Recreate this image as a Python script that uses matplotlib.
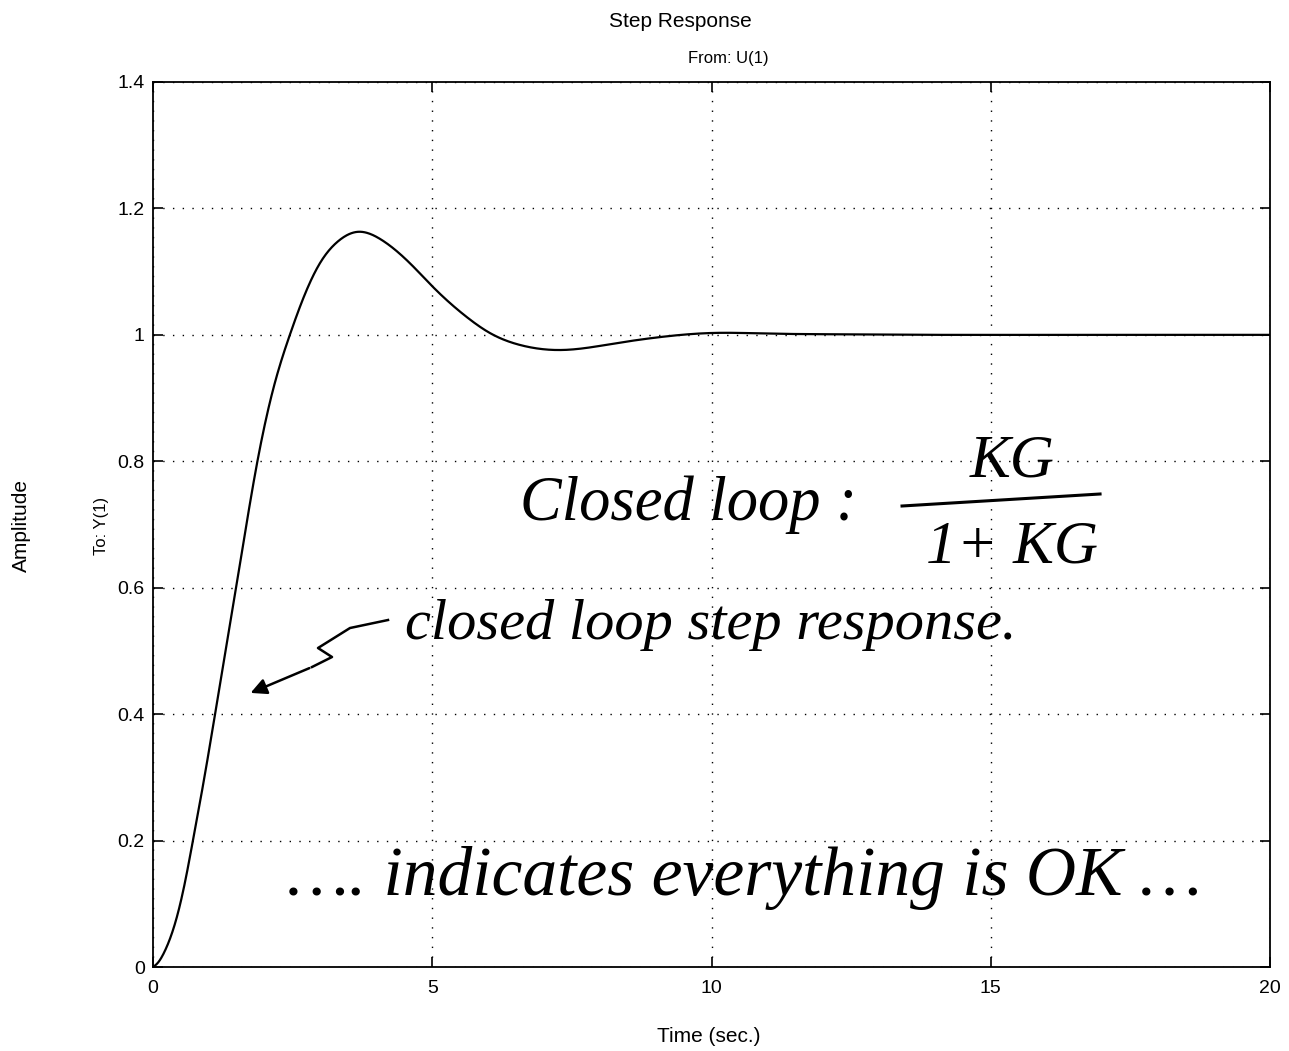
import matplotlib
matplotlib.use("Agg")
import matplotlib.pyplot as plt
import numpy as np

t = [0.0, 0.08, 0.21, 0.43, 0.57, 0.72, 0.93, 1.13, 1.47, 1.88, 2.2, 2.45,
     2.7, 3.0, 3.3, 3.67, 4.06, 4.66, 5.01, 5.62, 6.03, 6.57, 7.29, 8.24,
     9.13, 10.03, 11.0, 12.0, 14.0, 16.0, 18.0, 20.0]
y = [0.0, 0.006, 0.025, 0.08, 0.133, 0.2025, 0.305, 0.41, 0.59, 0.805, 0.93,
     1.0, 1.06, 1.115, 1.147, 1.163, 1.152, 1.108, 1.076, 1.028, 1.003, 0.984,
     0.976, 0.986, 0.997, 1.003, 1.002, 1.001, 1.0, 1.0, 1.0, 1.0]
xticks = [0, 5, 10, 15, 20]
yticks = [0, 0.2, 0.4, 0.6, 0.8, 1.0, 1.2, 1.4]
yticklabels = ["0", "0.2", "0.4", "0.6", "0.8", "1", "1.2", "1.4"]


def natural_spline(xk, yk, xs):
    xk = np.asarray(xk, float)
    yk = np.asarray(yk, float)
    n = len(xk)
    h = np.diff(xk)
    A = np.zeros((n, n))
    b = np.zeros(n)
    A[0, 0] = 1
    A[-1, -1] = 1
    for i in range(1, n - 1):
        A[i, i - 1] = h[i - 1]
        A[i, i] = 2 * (h[i - 1] + h[i])
        A[i, i + 1] = h[i]
        b[i] = 6 * ((yk[i + 1] - yk[i]) / h[i] - (yk[i] - yk[i - 1]) / h[i - 1])
    M = np.linalg.solve(A, b)
    idx = np.clip(np.searchsorted(xk, xs) - 1, 0, n - 2)
    x0, x1 = xk[idx], xk[idx + 1]
    hh = h[idx]
    a = (x1 - xs) / hh
    c = (xs - x0) / hh
    return (a * yk[idx] + c * yk[idx + 1]
            + ((a**3 - a) * M[idx] + (c**3 - c) * M[idx + 1]) * hh**2 / 6)


plt.rcParams['font.family'] = ['Liberation Sans', 'DejaVu Sans']

fig = plt.figure(figsize=(12.89, 10.51), dpi=100)
ax = fig.add_axes([0.1187, 0.0799, 0.8666, 0.8421])

ts = np.linspace(0, 20, 1500)
ys = natural_spline(t, y, ts)
ax.plot(ts, ys, color='black', lw=1.6)

ax.set_xlim(0, 20)
ax.set_ylim(0, 1.4)
ax.set_xticks(xticks)
ax.set_xticklabels([str(v) for v in xticks])
ax.set_yticks(yticks)
ax.set_yticklabels(yticklabels)
ax.tick_params(direction='in', length=7, labelsize=14, width=1.2, top=True, right=True)
ax.tick_params(axis='x', pad=9)
ax.tick_params(axis='y', pad=6)
ax.grid(True, linestyle=(0, (1, 6)), color='black', lw=1.0)
for s in ax.spines.values():
    s.set_linewidth(1.3)

fig.text(0.528, 0.980, "Step Response", ha='center', va='center', fontsize=15)
fig.text(0.565, 0.944, "From: U(1)", ha='center', va='center', fontsize=12)
fig.text(0.017, 0.5, "Amplitude", rotation=90, ha='center', va='center', fontsize=15)
fig.text(0.079, 0.50, "To: Y(1)", rotation=90, ha='center', va='center', fontsize=12)
fig.text(0.55, 0.014, "Time (sec.)", ha='center', va='center', fontsize=15)

hand = dict(family=['Liberation Serif', 'DejaVu Serif'], style='italic', color='black')


def px(xp, yp):
    return ((xp - 153) / (1270 - 153) * 20, (967 - yp) / (967 - 82) * 1.4)


ax.text(*px(520, 505), "Closed loop :", fontsize=45, ha='left', va='center', **hand)
ax.text(*px(1012, 462), "KG", fontsize=44, ha='center', va='center', **hand)
ax.text(*px(1012, 548), "1+ KG", fontsize=44, ha='center', va='center', **hand)
ax.plot(*zip(px(902, 506), px(1100, 494)), color='black', lw=2.2)
ax.text(*px(405, 625), "closed loop step response.", fontsize=42, ha='left',
        va='center', **hand)
ax.text(*px(287, 878), "\u2026. indicates everything is OK \u2026", fontsize=50,
        ha='left', va='center', **hand)

zig = [px(388, 620), px(350, 628), px(318, 648), px(332, 657), px(312, 667)]
ax.plot(*zip(*zig), color='black', lw=1.8)
ax.annotate("", xy=px(248, 694), xytext=px(312, 667),
            arrowprops=dict(arrowstyle='-|>', color='black', lw=1.8,
                            mutation_scale=24))

fig.savefig("out.png", dpi=100, facecolor='white')
